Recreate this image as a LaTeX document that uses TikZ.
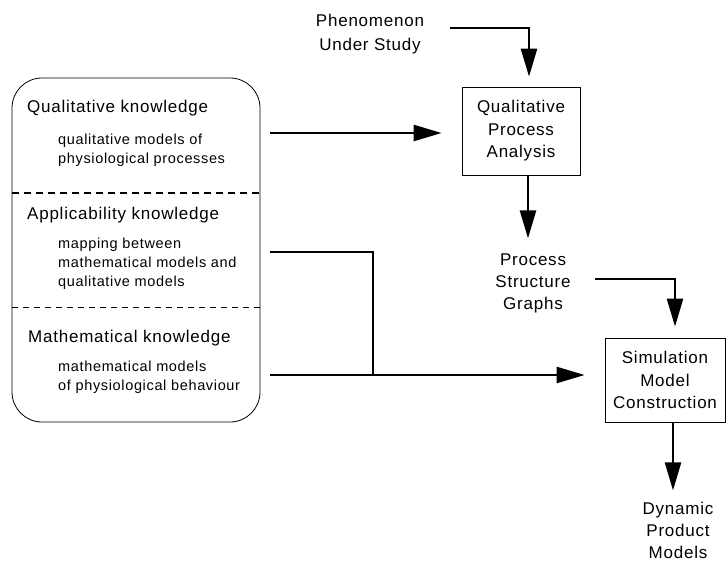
\documentclass[tikz,border=0pt]{standalone}
\usepackage{fontspec}
\setmainfont[LetterSpace=4.5]{Liberation Sans}
\usetikzlibrary{arrows.meta}
\begin{document}
\begin{tikzpicture}[x=1pt,y=-1pt,
  lab/.style={font=\fontsize{17}{22}\selectfont, align=center, inner sep=0pt},
  head/.style={font=\fontsize{17}{22}\selectfont, inner sep=0pt, anchor=west},
  sub/.style={font=\fontsize{14.5}{19}\selectfont, align=left, inner sep=0pt, anchor=west},
  arr/.style={line width=2.5pt, -{Triangle[length=28pt,width=16pt]}},
  plain/.style={line width=2.5pt},
  procbox/.style={draw, line width=0.8pt, align=center, inner sep=0pt,
    font=\fontsize{17}{22.5}\selectfont}]
\useasboundingbox (0,0) rectangle (728,563);

% knowledge base
\node[draw, line width=0.8pt, rounded corners=30pt, minimum width=248pt,
  minimum height=344pt] (kb) at (136,250) {};
\coordinate (d1) at (12,193);
\coordinate (d2) at (12,307);
\draw[line width=1.6pt, dash pattern=on 7pt off 5pt] (d1) -- (kb.east |- d1);
\draw[line width=0.9pt, dash pattern=on 6pt off 5pt] (d2) -- (kb.east |- d2);

\node[head] (qk) at (27,108) {Qualitative knowledge};
\node[sub] (qm) at (58,150.5) {qualitative models of\\physiological processes};
\node[head] (ak) at (27,215) {Applicability knowledge};
\node[sub] (am) at (58,264) {mapping between\\mathematical models and\\qualitative models};
\node[head] (mk) at (28,338) {Mathematical knowledge};
\node[sub] (mm) at (58,377.5) {mathematical models\\of physiological behaviour};

% process boxes and labels
\node[procbox, minimum width=118pt, minimum height=88pt] (qpa) at (521,131)
  {Qualitative\\Process\\Analysis};
\node[procbox, minimum width=120pt, minimum height=84pt] (smc) at (665,380)
  {Simulation\\Model\\Construction};
\node[lab, font=\fontsize{17}{24}\selectfont] (phen) at (370,34.5) {Phenomenon\\Under Study};
\node[lab] (psg) at (533,283.5) {Process\\Structure\\Graphs};
\node[lab] (dpm) at (678,530) {Dynamic\\Product\\Models};

% connectors
\coordinate (p1) at (450,28);
\draw[arr] (p1) -| ([xshift=8pt,yshift=10pt]qpa.north);

\coordinate (s1) at (270,133);
\draw[arr] (s1) -- ([xshift=-20pt]qpa.west |- s1);

\draw[arr] ([xshift=7pt]qpa.south) -- ([xshift=7pt,yshift=-63pt]qpa.south);

\coordinate (g1) at (595,279);
\draw[arr] (g1) -| ([xshift=10pt,yshift=11pt]smc.north);

\coordinate (s3) at (270,375);
\draw[arr] (s3) -- ([xshift=-20pt]smc.west |- s3);

\coordinate (s2) at (270,252);
\coordinate (j) at (373,375);
\draw[plain] (s2) -| (j);

\draw[arr] ([xshift=8pt]smc.south) -- ([xshift=8pt,yshift=-68pt]smc.south);
\end{tikzpicture}
\end{document}
